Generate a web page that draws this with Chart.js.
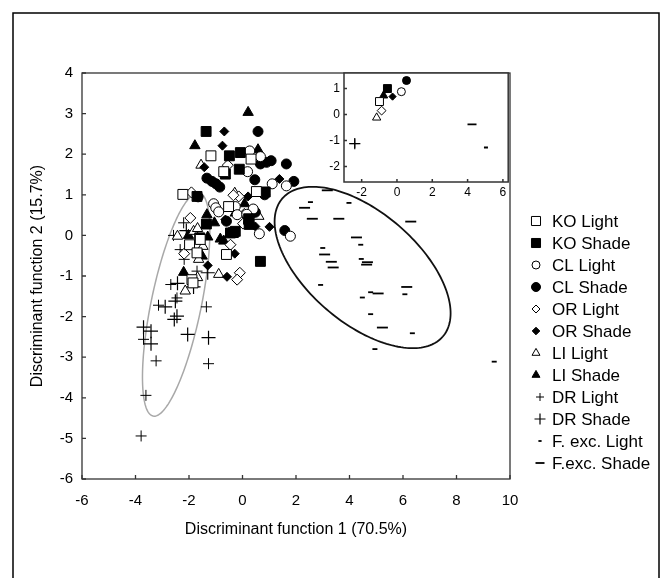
<!DOCTYPE html>
<html>
<head>
<meta charset="utf-8">
<script src="https://cdn.jsdelivr.net/npm/chart.js@4.4.1/dist/chart.umd.min.js"></script>
<style>
  html, body { margin: 0; padding: 0; background: #fff; }
  #wrap { position: relative; width: 665px; height: 578px; }
  #main { position: absolute; left: 0; top: 0; }
  #inset { position: absolute; left: 310px; top: 60px; }
</style>
</head>
<body>
<div id="wrap">
  <canvas id="main" width="665" height="578"></canvas>
  <canvas id="inset" width="205" height="150"></canvas>
</div>
<script>
// discriminant scores [function 1, function 2] per group
const koLight = [[-1.18,1.96],[0.32,1.88],[-0.70,1.57],[-2.23,1.01],[0.52,1.08],[-0.52,0.71],[-0.60,-0.47],[-1.98,-0.23],[-1.70,-0.43],[-1.89,-1.09],[-1.58,-0.10],[-1.85,-1.17]];
const koShade = [[-1.36,2.56],[-0.49,1.96],[-0.08,2.04],[-0.64,1.51],[-0.12,1.63],[-1.70,0.96],[-1.35,0.28],[0.23,0.41],[-0.27,0.10],[-1.60,-0.06],[0.67,-0.64],[0.85,1.07],[-0.34,0.07],[0.25,0.27],[-0.45,0.06]];
const clLight = [[0.27,2.08],[0.67,1.94],[0.19,1.57],[1.11,1.27],[1.64,1.22],[-1.08,0.78],[-1.00,0.68],[-0.89,0.58],[-0.27,0.71],[0.40,0.65],[-0.20,0.51],[0.63,0.04],[1.79,-0.02],[0.16,0.52]];
const clShade = [[0.58,2.56],[0.67,1.76],[0.90,1.80],[1.07,1.84],[1.64,1.76],[-1.33,1.41],[-1.14,1.33],[-0.99,1.27],[-0.85,1.19],[0.46,1.37],[1.92,1.33],[0.83,1.00],[-1.66,0.95],[0.48,0.57],[-0.60,0.35],[0.23,0.31],[1.58,0.12]];
const orLight = [[-0.55,1.73],[-1.91,1.06],[-0.14,0.96],[-0.34,0.99],[-1.95,0.43],[0.02,0.29],[-0.45,-0.23],[-2.18,-0.45],[-0.10,-0.92],[-0.20,-1.09],[0.07,0.53]];
const orShade = [[-0.68,2.56],[-0.75,2.21],[-1.43,1.68],[1.38,1.39],[0.21,0.96],[0.48,0.22],[1.01,0.21],[-0.29,-0.45],[-1.30,-0.74],[-0.58,-1.02],[-0.64,0.39]];
const liLight = [[-1.55,1.73],[-0.29,1.04],[0.61,0.47],[-2.43,-0.02],[-1.83,0.10],[-1.48,-0.27],[-1.64,-0.59],[-0.89,-0.96],[-1.68,-1.04],[-2.14,-1.37],[-1.68,0.17]];
const liShade = [[0.21,3.03],[-1.78,2.21],[0.58,2.11],[0.08,0.78],[-1.33,0.51],[-1.05,0.31],[-0.83,-0.09],[-0.70,-0.14],[-2.02,0.00],[-1.30,-0.04],[-1.51,-0.51],[-2.20,-0.91],[-0.27,0.55]];
const drLight = [[-1.27,-3.16],[-3.23,-3.09],[-1.35,-1.76],[-2.45,-1.54],[-2.18,-0.59],[-2.20,0.31],[-3.14,-1.72],[-3.70,-2.56],[-2.68,-1.21],[-3.61,-3.94],[-3.79,-4.94],[-2.33,-0.35],[-1.70,-0.88],[-2.58,0.00]];
const drShade = [[-2.10,0.12],[-1.30,-0.92],[-1.83,-1.27],[-2.43,-1.18],[-2.51,-1.62],[-2.89,-1.76],[-2.45,-1.99],[-2.55,-2.07],[-3.70,-2.26],[-3.42,-2.36],[-3.42,-2.67],[-2.05,-2.44],[-1.27,-2.52]];
const fexcLight = [[2.54,0.82],[3.98,0.80],[4.42,-0.23],[3.00,-0.31],[4.44,-0.58],[2.92,-1.22],[6.07,-1.45],[4.79,-1.40],[4.48,-1.53],[4.79,-1.94],[6.35,-2.41],[4.95,-2.80],[9.41,-3.11]];
const fexcShade = [[3.17,1.11],[2.32,0.68],[2.61,0.41],[3.60,0.41],[6.29,0.34],[4.26,-0.05],[3.07,-0.47],[3.32,-0.65],[4.67,-0.66],[4.64,-0.72],[3.39,-0.79],[6.14,-1.27],[5.07,-1.43],[5.23,-2.27]];

// group centroids shown in the inset
const insetLabels = ['KO Light','KO Shade','CL Light','CL Shade','OR Light','OR Shade','LI Light','LI Shade','DR Light','DR Shade','F. exc. Light','F.exc. Shade'];
const insetX = [-0.99,-0.54,0.25,0.54,-0.87,-0.25,-1.15,-0.76,-2.39,-2.39,5.04,4.25];
const insetY = [0.50,1.00,0.88,1.31,0.15,0.69,-0.12,0.73,-1.12,-1.12,-1.27,-0.38];

// ellipses: centre + two conjugate semi-axes, in data units
const drEllipse = {cx:-2.48, cy:-1.70, ux:0.86, uy:2.75, vx:0.92, vy:-0.12};
const fexcEllipse = {cx:4.49, cy:-0.79, ux:3.00, uy:-1.70, vx:-1.35, vy:-1.03};

const xTicksMain = [-6,-4,-2,0,2,4,6,8,10];
const yTicksMain = [-6,-5,-4,-3,-2,-1,0,1,2,3,4];
const xTicksInset = [-2,0,2,4,6];
const yTicksInset = [-2,-1,0,1];

const FONT = "'Liberation Sans', Arial, sans-serif";
const toXY = arr => arr.map(p => ({x: p[0], y: p[1]}));

// marker look per group
const looks = {
  'KO Light':      {style:'rect',     r:7,   fill:'#fff', bw:1,   lr:6.4, lx:536},
  'KO Shade':      {style:'rect',     r:7,   fill:'#000', bw:1,   lr:6.4, lx:536},
  'CL Light':      {style:'circle',   r:5,   fill:'#fff', bw:1,   lr:4,   lx:536},
  'CL Shade':      {style:'circle',   r:5,   fill:'#000', bw:1,   lr:4.5, lx:536},
  'OR Light':      {style:'rectRot',  r:5.5, fill:'#fff', bw:1,   lr:4,   lx:536},
  'OR Shade':      {style:'rectRot',  r:4.5, fill:'#000', bw:1,   lr:3.8, lx:536},
  'LI Light':      {style:'triangle', r:6,   fill:'#fff', bw:1,   lr:4.6, lx:536},
  'LI Shade':      {style:'triangle', r:6,   fill:'#000', bw:1,   lr:4.6, lx:536},
  'DR Light':      {style:'cross',    r:5.5, fill:'#000', bw:1,   lr:4,   lx:540},
  'DR Shade':      {style:'cross',    r:7,   fill:'#000', bw:1.2, lr:5.5, lx:540},
  'F. exc. Light': {style:'line',     r:2.5, fill:'#000', bw:1.8, lr:1.6, lx:540},
  'F.exc. Shade':  {style:'line',     r:5.5, fill:'#000', bw:1.8, lr:4.5, lx:540}
};

const mainData = [koLight, koShade, clLight, clShade, orLight, orShade, liLight, liShade, drLight, drShade, fexcLight, fexcShade];

const datasets = insetLabels.map((label, i) => {
  const lk = looks[label];
  return {
    label: label,
    data: toXY(mainData[i]),
    pointStyle: lk.style,
    pointRadius: lk.r,
    pointHoverRadius: lk.r,
    backgroundColor: lk.fill,
    borderColor: '#000',
    borderWidth: lk.bw,
    pointBorderWidth: lk.bw,
    showLine: false
  };
});

function fixTicks(values) {
  return scale => { scale.ticks = values.map(v => ({value: v})); };
}

const whiteBg = {
  id: 'whiteBg',
  beforeDraw(chart, args, opts) {
    const {ctx} = chart;
    ctx.save();
    ctx.fillStyle = '#fff';
    if (opts.areaOnly) {
      const a = chart.chartArea;
      ctx.fillRect(a.left, a.top, a.right - a.left, a.bottom - a.top);
    } else {
      ctx.fillRect(0, 0, chart.width, chart.height);
    }
    ctx.restore();
  }
};

const ellipses = {
  id: 'ellipses',
  beforeDatasetsDraw(chart, args, opts) {
    const {ctx, scales: {x, y}} = chart;
    (opts.list || []).forEach(e => {
      ctx.save();
      ctx.strokeStyle = e.color;
      ctx.lineWidth = e.width;
      ctx.beginPath();
      for (let k = 0; k <= 180; k++) {
        const t = k / 180 * Math.PI * 2;
        const dx = e.shape.cx + e.shape.ux * Math.cos(t) + e.shape.vx * Math.sin(t);
        const dy = e.shape.cy + e.shape.uy * Math.cos(t) + e.shape.vy * Math.sin(t);
        const px = x.getPixelForValue(dx), py = y.getPixelForValue(dy);
        if (k === 0) ctx.moveTo(px, py); else ctx.lineTo(px, py);
      }
      ctx.closePath();
      ctx.stroke();
      ctx.restore();
    });
  }
};

const frame = {
  id: 'frame',
  afterDatasetsDraw(chart, args, opts) {
    const {ctx, chartArea: a, scales: {x, y}} = chart;
    ctx.save();
    ctx.strokeStyle = opts.color;
    ctx.lineWidth = opts.width;
    ctx.strokeRect(a.left, a.top, a.right - a.left, a.bottom - a.top);
    ctx.beginPath();
    x.ticks.forEach(t => {
      const px = x.getPixelForValue(t.value);
      ctx.moveTo(px, a.bottom); ctx.lineTo(px, a.bottom - opts.tick);
    });
    y.ticks.forEach(t => {
      const py = y.getPixelForValue(t.value);
      ctx.moveTo(a.left, py); ctx.lineTo(a.left + opts.tick, py);
    });
    ctx.stroke();
    ctx.restore();
  }
};

const sideLegend = {
  id: 'sideLegend',
  afterDraw(chart) {
    const {ctx} = chart;
    chart.data.datasets.forEach((ds, i) => {
      const lk = looks[ds.label];
      const yy = 221 + i * 22;
      ctx.save();
      ctx.fillStyle = lk.fill;
      ctx.strokeStyle = '#000';
      ctx.lineWidth = lk.bw;
      Chart.helpers.drawPoint(ctx, {pointStyle: lk.style, radius: lk.lr, rotation: 0, borderWidth: lk.bw}, lk.lx, yy);
      ctx.fillStyle = '#000';
      ctx.font = '17px ' + FONT;
      ctx.textBaseline = 'middle';
      ctx.textAlign = 'left';
      ctx.fillText(ds.label, 552, yy + 1);
      ctx.restore();
    });
    // outer figure border
    ctx.save();
    ctx.strokeStyle = '#000';
    ctx.lineWidth = 1.5;
    ctx.strokeRect(13, 13, 646, 620);
    ctx.restore();
  }
};

new Chart(document.getElementById('main'), {
  type: 'scatter',
  data: {datasets: datasets},
  options: {
    responsive: false,
    animation: false,
    devicePixelRatio: 1,
    layout: {padding: {left: 22, right: 155, top: 73, bottom: 39}},
    plugins: {
      legend: {display: false},
      tooltip: {enabled: false},
      frame: {color: '#333', width: 1.3, tick: 4},
      ellipses: {list: [
        {shape: drEllipse, color: '#a8a8a8', width: 1.5},
        {shape: fexcEllipse, color: '#111', width: 1.8}
      ]}
    },
    scales: {
      x: {
        type: 'linear', min: -6, max: 10,
        afterBuildTicks: fixTicks(xTicksMain),
        afterFit: s => { s.height = 60; },
        grid: {display: false, drawTicks: false},
        border: {display: false},
        ticks: {color: '#000', font: {family: FONT, size: 15}, padding: 13},
        title: {display: true, text: 'Discriminant function 1 (70.5%)', color: '#000',
                font: {family: FONT, size: 16}, padding: {top: 0, bottom: 0}}
      },
      y: {
        type: 'linear', min: -6, max: 4,
        afterBuildTicks: fixTicks(yTicksMain),
        afterFit: s => { s.width = 60; },
        grid: {display: false, drawTicks: false},
        border: {display: false},
        ticks: {color: '#000', font: {family: FONT, size: 15}, padding: 9},
        title: {display: true, text: 'Discriminant function 2 (15.7%)', color: '#000',
                font: {family: FONT, size: 16}, padding: {top: 6, bottom: 0}}
      }
    }
  },
  plugins: [whiteBg, ellipses, frame, sideLegend]
});

// inset with group centroids
const insetSets = insetLabels.map((label, i) => {
  const lk = looks[label];
  const r = lk.style === 'line' ? (label === 'F.exc. Shade' ? 4.5 : 2) : lk.r * 0.8;
  return {
    label: label,
    data: [{x: insetX[i], y: insetY[i]}],
    pointStyle: lk.style,
    pointRadius: r,
    pointHoverRadius: r,
    backgroundColor: lk.fill,
    borderColor: '#000',
    borderWidth: lk.bw,
    showLine: false
  };
});

new Chart(document.getElementById('inset'), {
  type: 'scatter',
  data: {datasets: insetSets},
  options: {
    responsive: false,
    animation: false,
    devicePixelRatio: 1,
    layout: {padding: {left: 10, right: 6, top: 13, bottom: 8}},
    plugins: {
      legend: {display: false},
      tooltip: {enabled: false},
      whiteBg: {areaOnly: true},
      frame: {color: '#333', width: 1.5, tick: 3}
    },
    scales: {
      x: {
        type: 'linear', min: -3, max: 6.3,
        afterBuildTicks: fixTicks(xTicksInset),
        afterFit: s => { s.height = 20; },
        grid: {display: false, drawTicks: false},
        border: {display: false},
        ticks: {color: '#000', font: {family: FONT, size: 12}, padding: 3}
      },
      y: {
        type: 'linear', min: -2.6, max: 1.6,
        afterBuildTicks: fixTicks(yTicksInset),
        afterFit: s => { s.width = 24; },
        grid: {display: false, drawTicks: false},
        border: {display: false},
        ticks: {color: '#000', font: {family: FONT, size: 12}, padding: 4}
      }
    }
  },
  plugins: [whiteBg, frame]
});
</script>
</body>
</html>
